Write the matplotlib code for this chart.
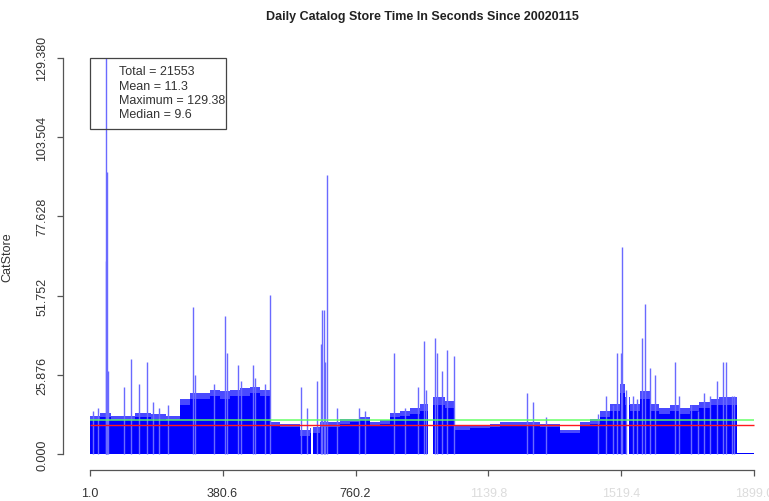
import numpy as np
import matplotlib.pyplot as plt
from matplotlib.patches import Rectangle

plt.rcParams['font.family'] = ['Liberation Sans', 'DejaVu Sans']

# day index where each run of typical store times starts, its bulk level (s)
# and the ragged upper edge of the same run
seg_start = [1, 32, 61, 89, 132, 175, 218, 260, 289, 317, 346, 374, 403, 431,
             460, 488, 517, 545, 574, 602, 631, 634, 639, 659, 688, 716, 745,
             773, 802, 830, 859, 887, 916, 944, 967, 981, 1015, 1044, 1087,
             1115, 1144, 1172, 1201, 1229, 1258, 1286, 1315, 1343, 1372, 1400,
             1429, 1457, 1486, 1514, 1529, 1534, 1540, 1543, 1571, 1600, 1628,
             1657, 1685, 1714, 1742, 1771, 1799, 1848]
seg_level = [11, 12, 11, 11, 12, 11.5, 11, 16, 18, 18, 19, 18, 19, 19,
             20, 19, 9.5, 9, 9, 6, 7, 0, 7, 9, 9, 10, 10.5,
             11, 9.5, 10, 12, 12.5, 13, 14, 0, 16, 15, 8, 8.5,
             8.5, 9, 9.5, 9.5, 9.5, 9.5, 9, 9, 7, 7, 9.5,
             10, 12, 14, 20, 16, 0, 16, 14, 18, 14, 13,
             14, 13, 14, 15, 16, 16, 0.3]
seg_edge = [12.5, 13.5, 12.5, 12.5, 13.5, 13, 12.5, 18, 20, 20, 21, 20.5, 21, 21.5,
            22, 21, 10.5, 10, 10, 8, 8.5, 0, 9, 10.5, 10.5, 11.5, 11.5,
            12, 10.5, 11, 13.5, 14, 15, 16.5, 0, 18.5, 17.5, 9.5, 9.5,
            9.5, 10, 10.5, 10.5, 10.5, 10.5, 10, 10, 8, 8, 10.5,
            11.5, 14, 16.5, 23, 18.5, 0, 18.5, 16.5, 20.5, 16.5, 15,
            16, 15, 16, 17, 18, 18.5, 0.3]
last_day = 1899

# individual slow days standing above the bulk
spike_day = [12, 24, 48, 49, 50, 53, 98, 118, 143, 166, 181, 198, 226,
             297, 303, 357, 389, 392, 426, 434, 468, 474, 503, 517,
             605, 622, 651, 662, 665, 671, 674, 679, 708, 770, 788,
             870, 901, 939, 956, 962, 987, 993, 1007, 1021, 1041,
             1249, 1266, 1303, 1452, 1474, 1494, 1506, 1518, 1520, 1531,
             1551, 1563, 1577, 1588, 1600, 1614, 1671, 1685, 1717, 1737,
             1756, 1771, 1791, 1808, 1819, 1834, 1842]
spike_sec = [14, 15, 63, 129.38, 92, 27, 22, 31, 23, 30, 17, 15, 16,
             48, 26, 23, 45, 33, 29, 24, 29, 25, 23, 52,
             22, 15, 24, 36, 47, 47, 30, 91, 15, 15, 14,
             33, 15, 22, 37, 21, 38, 33, 27, 34, 32,
             20, 17, 12, 13, 19, 16, 33, 33, 67.5, 21,
             19, 18, 38, 49, 28, 26, 30, 19, 16, 14,
             20, 19, 24, 30, 30, 19, 19]

total_sec = 21553
mean_sec = 11.3
max_sec = 129.38
median_sec = 9.6

W, H = 769, 502
fig = plt.figure(figsize=(W / 100, H / 100), dpi=100)
ax = fig.add_axes([63 / W, 31 / H, 718 / W, 428 / H])

xs = seg_start + [last_day]
ax.fill_between(xs, 0, seg_edge + [seg_edge[-1]], step='post',
                color='#4a4aff', lw=0)
ax.fill_between(xs, 0, seg_level + [seg_level[-1]], step='post',
                color='#0000ff', lw=0)
ax.vlines(spike_day, 0, spike_sec, color='#6a6aff', lw=1.0)

ax.hlines(mean_sec, 1, last_day, color='#5cff5c', lw=1.2, alpha=0.85)
ax.hlines(median_sec, 1, last_day, color='#ff1a1a', lw=1.0)

ax.set_xlim(1 - 0.04 * (last_day - 1), last_day + 0.04 * (last_day - 1))
ax.set_ylim(-0.04 * max_sec, max_sec * 1.04)

for s in ['top', 'right']:
    ax.spines[s].set_visible(False)
ax.spines['left'].set_bounds(0, max_sec)
ax.spines['bottom'].set_bounds(1, last_day)
for s in ['left', 'bottom']:
    ax.spines[s].set_color('#555555')
    ax.spines[s].set_linewidth(0.9)

xt = np.linspace(1, last_day, 6)
yt = np.linspace(0, max_sec, 6)
ax.set_xticks(xt)
ax.set_xticklabels(['%.1f' % v for v in xt])
ax.set_yticks(yt)
ax.set_yticklabels(['%.3f' % v for v in yt], rotation=90, va='center')
ax.tick_params(axis='both', length=4.5, width=0.9, color='#555555',
               labelsize=9, labelcolor='#333333')
ax.tick_params(axis='x', pad=8)
ax.tick_params(axis='y', pad=6)
for lab in ax.get_xticklabels()[3:]:
    lab.set_color('#dcdcdc')

ax.set_ylabel('CatStore', fontsize=9, color='#333333')
ax.yaxis.set_label_coords(-50 / 718, 0.5)

fig.text(422 / W, 1 - 17 / H, 'Daily Catalog Store Time In Seconds Since 20020115',
         ha='center', va='center', fontsize=9, fontweight='bold', color='#222222')

# summary box in the upper left corner of the data range
box_right = 391
box_bottom = 106.2
ax.add_patch(Rectangle((1, box_bottom), box_right - 1, max_sec - box_bottom,
                       fill=False, ec='#444444', lw=0.9, zorder=5))
lines = ['Total = %d' % total_sec, 'Mean = %.1f' % mean_sec,
         'Maximum = %.2f' % max_sec, 'Median = %.1f' % median_sec]
for i, t in enumerate(lines):
    ax.text(84, 125.0 - i * 4.7, t, fontsize=9, color='#333333',
            va='center', ha='left', zorder=6)

fig.savefig('out.png', dpi=100)
